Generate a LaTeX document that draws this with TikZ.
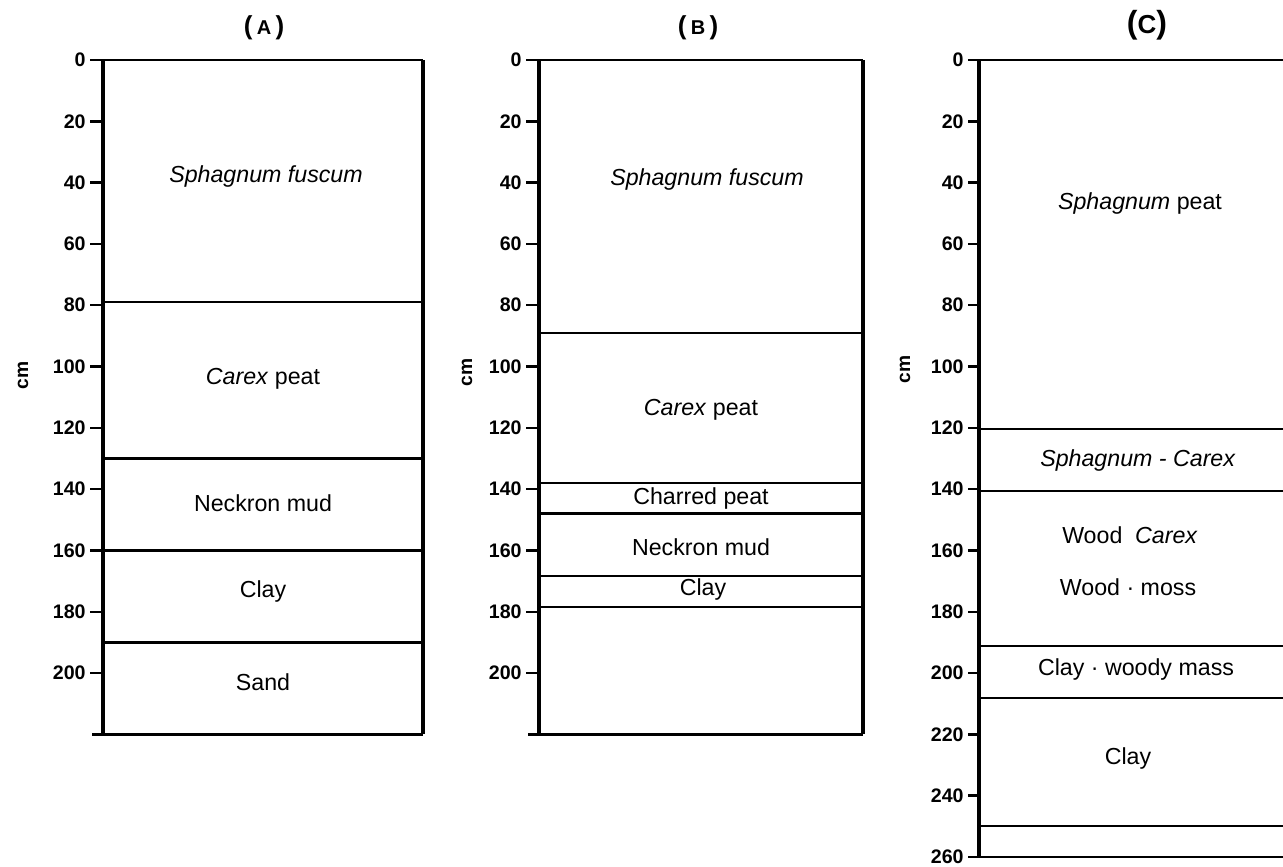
\documentclass[tikz,border=0pt]{standalone}
\usepackage{fontspec}
\setmainfont{Liberation Sans}

\tikzset{
  coreaxis/.style={line width=2.1pt},
  coreedge/.style={line width=1.7pt},
  layerline/.style={line width=1.2pt},
  ticklab/.style={anchor=east,inner sep=0pt,font=\fontsize{9.8}{10}\selectfont\bfseries},
  layerlab/.style={inner sep=0pt,font=\fontsize{11.6}{13}\selectfont},
  unitlab/.style={rotate=90,inner sep=0pt,font=\fontsize{9.6}{10}\selectfont\bfseries},
  coretitle/.style={inner sep=0pt,font=\fontsize{13}{14}\selectfont\bfseries}
}
\newcommand{\corelet}[1]{{\fontsize{10}{11}\selectfont #1}}

\begin{document}
\begin{tikzpicture}[x=0.5pt,y=-1.5325pt]
\useasboundingbox (0,-19.58) rectangle (1283,262.97);

% core A
\begin{scope}[shift={(103,0)}]
  \foreach \d in {0,20,...,200} {
    \draw[layerline] (-13,\d) -- (0,\d);
    \node[ticklab] (A-t\d) at (-17,\d) {\d};
  }
  \draw[layerline] (-13,0) -- (320,0);
  \draw[layerline] (-11,220) -- (320,220);
  \foreach \d in {79,130,160,190}
    \draw[layerline] (0,\d) -- (320,\d);
  \draw[coreaxis] (0,0) -- (0,220);
  \draw[coreedge] (320,0) -- (320,220);
  \node[coretitle] (A-title) at (161,-10.4) {(\,\corelet{A}\,)};
  \node[unitlab] (A-cm) at (-80,103) {cm};
  \node[layerlab] (A-sph) at (163,38) {\textit{Sphagnum fuscum}};
  \node[layerlab] (A-car) at (160,104) {\textit{Carex} peat};
  \node[layerlab] (A-mud) at (160,144.5) {Neckron mud};
  \node[layerlab] (A-clay) at (160,173.5) {Clay};
  \node[layerlab] (A-sand) at (160,203) {Sand};
\end{scope}

% core B
\begin{scope}[shift={(539,0)}]
  \foreach \d in {0,20,...,200} {
    \draw[layerline] (-13,\d) -- (0,\d);
    \node[ticklab] (B-t\d) at (-17,\d) {\d};
  }
  \draw[layerline] (-13,0) -- (324,0);
  \draw[layerline] (-11,220) -- (324,220);
  \foreach \d in {89,138,148,168.4,178.4}
    \draw[layerline] (0,\d) -- (324,\d);
  \draw[coreaxis] (0,0) -- (0,220);
  \draw[coreedge] (324,0) -- (324,220);
  \node[coretitle] (B-title) at (159,-10.4) {(\,\corelet{B}\,)};
  \node[unitlab] (B-cm) at (-72,102) {cm};
  \node[layerlab] (B-sph) at (168,39) {\textit{Sphagnum fuscum}};
  \node[layerlab] (B-car) at (162,114) {\textit{Carex} peat};
  \node[layerlab] (B-char) at (162,143) {Charred peat};
  \node[layerlab] (B-mud) at (162,159) {Neckron mud};
  \node[layerlab] (B-clay) at (164,172.8) {Clay};
\end{scope}

% core C
\begin{scope}[shift={(979,0)}]
  \foreach \d in {0,20,...,260} {
    \draw[layerline] (-11,\d) -- (0,\d);
    \node[ticklab] (C-t\d) at (-15,\d) {\d};
  }
  \foreach \d in {0,120.4,140.6,191.2,208.2,249.9,260}
    \draw[layerline] (0,\d) -- (320,\d);
  \draw[coreaxis] (0,0) -- (0,260);
  \node[coretitle,font=\fontsize{16}{17}\selectfont\bfseries] (C-title) at (168,-11.4) {(\corelet{\fontsize{13}{14}\selectfont C})};
  \node[unitlab] (C-cm) at (-74,101) {cm};
  \node[layerlab] (C-sph) at (161,46.7) {\textit{Sphagnum} peat};
  \node[layerlab] (C-sc) at (159,130.5) {\textit{Sphagnum - Carex}};
  \node[layerlab] (C-wc) at (151,155) {Wood\hspace{0.55em}\textit{Carex}};
  \node[layerlab] (C-wm) at (149,172) {Wood · moss};
  \node[layerlab] (C-cw) at (157,198.7) {Clay · woody mass};
  \node[layerlab] (C-clay) at (149,228) {Clay};
\end{scope}
\end{tikzpicture}
\end{document}
